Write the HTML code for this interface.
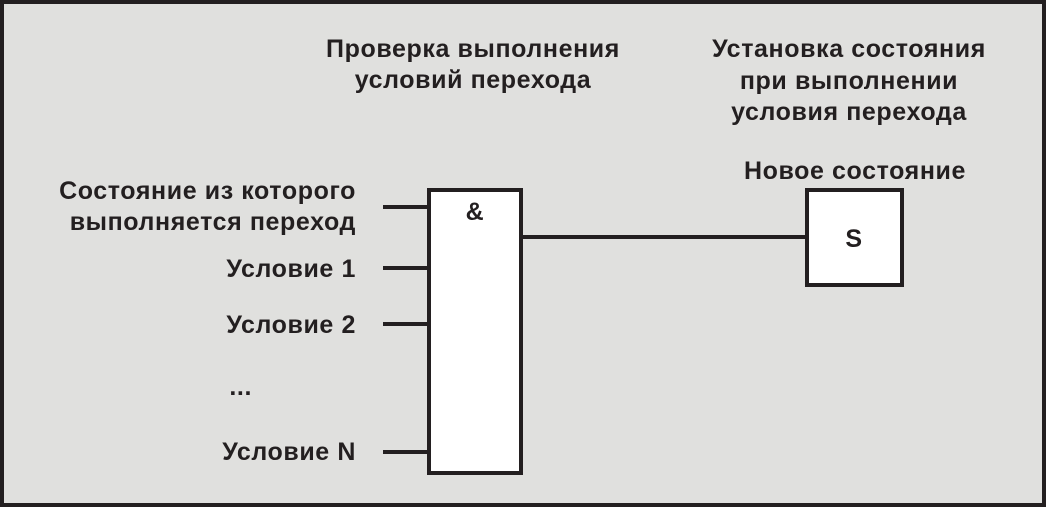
<!DOCTYPE html>
<html><head><meta charset="utf-8"><style>
body{margin:0;width:1046px;height:507px;overflow:hidden;background:#e0e0de}
svg{display:block}
text{font-family:"Liberation Sans",Arial,sans-serif;font-weight:bold;font-size:25px;letter-spacing:0.6px;fill:#231f20}
</style></head><body>
<svg width="1046" height="507" viewBox="0 0 1046 507">
<rect x="2" y="2" width="1042" height="503" fill="#e0e0de" stroke="#231f20" stroke-width="4"/>
<g stroke="#231f20" stroke-width="4" fill="#fff">
<rect x="429" y="190" width="92" height="283"/>
<rect x="807" y="190" width="95" height="95"/>
<line x1="521" y1="237" x2="807" y2="237"/>
<line x1="383" y1="207" x2="429" y2="207"/>
<line x1="383" y1="268" x2="429" y2="268"/>
<line x1="383" y1="324" x2="429" y2="324"/>
<line x1="383" y1="452" x2="429" y2="452"/>
</g>
<g text-anchor="middle">
<text x="473" y="57">Проверка выполнения</text>
<text x="473" y="88">условий перехода</text>
<text x="849" y="57">Установка состояния</text>
<text x="849" y="89">при выполнении</text>
<text x="849" y="120">условия перехода</text>
<text x="855" y="179">Новое состояние</text>
<text x="475" y="220">&amp;</text>
<text x="854" y="247">S</text>
</g>
<g text-anchor="end">
<text x="356" y="199">Состояние из которого</text>
<text x="356" y="230">выполняется переход</text>
<text x="356" y="277">Условие 1</text>
<text x="356" y="333">Условие 2</text>
<text x="252" y="395">...</text>
<text x="356" y="460">Условие N</text>
</g>
</svg>
</body></html>
